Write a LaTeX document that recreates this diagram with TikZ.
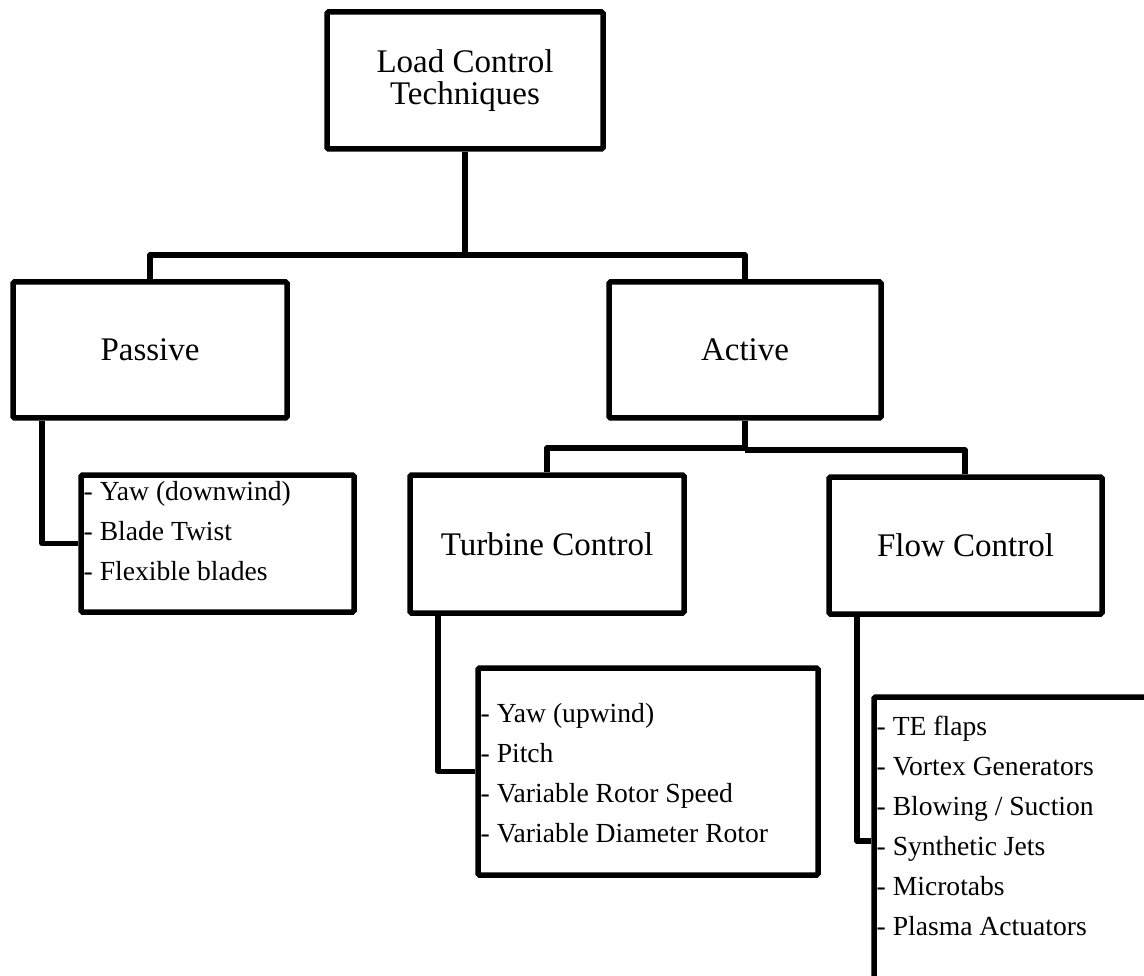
\documentclass[tikz,border=0pt]{standalone}
\usepackage{fontspec}
\setmainfont{Liberation Serif}
\begin{document}
\begin{tikzpicture}[x=1pt,y=-1pt,
  box/.style={draw=black, line width=5.5pt, rounded corners=1.5pt, inner sep=0pt, align=center,
    font=\fontsize{33}{31.5}\selectfont},
  listbox/.style={draw=black, line width=5.5pt, rounded corners=1.5pt, inner sep=0pt},
  item/.style={anchor=base west, inner sep=0pt, font=\fontsize{27.6}{40}\selectfont},
  conn/.style={draw=black, line width=5.5pt, line join=round}]
\useasboundingbox (0,0) rectangle (1144,976);
\clip (0,0) rectangle (1144,976);
% boxes
\node[box, minimum width=276pt, minimum height=137pt] (root) at (465,80.5) {Load Control\\Techniques};
\node[box, minimum width=274pt, minimum height=136pt] (passive) at (150,350) {Passive};
\node[box, minimum width=272pt, minimum height=136pt] (active) at (745,350) {Active};
\node[box, minimum width=274pt, minimum height=138pt] (turbine) at (547,544) {Turbine Control};
\node[box, minimum width=273pt, minimum height=137pt] (flow) at (965.5,545.5) {Flow Control};
\node[listbox, minimum width=273pt, minimum height=137pt] (plist) at (217.5,543.5) {};
\node[listbox, minimum width=340pt, minimum height=207pt] (tlist) at (648,771.5) {};
\node[listbox, minimum width=286pt, minimum height=288pt] (flist) at (1017,841) {};
% connectors
\coordinate (busA) at (0,255);
\coordinate (busB) at (0,448);
\coordinate (busC) at (0,450);
\draw[conn] (root.south) -- (root.south |- busA);
\draw[conn] (passive.north) |- (busA -| active.north) -- (active.north);
\draw[conn] (active.south) -- (active.south |- busB);
\draw[conn] (active.south |- busB) -| (turbine.north);
\draw[conn] (active.south |- busC) -| ([xshift=-0.5pt]flow.north);
\draw[conn] ([xshift=-108pt]passive.south) |- (plist.west);
\draw[conn] ([xshift=-109pt]turbine.south) |- (tlist.west);
\draw[conn] ([xshift=-108.5pt]flow.south) |- (flist.west);
% list texts
\foreach \t [count=\i] in {Yaw (downwind),Blade Twist,Flexible blades}
  \node[item] (p\i) at (83.5,{500+40*(\i-1)}) {- \t};
\foreach \t [count=\i] in {Yaw (upwind),Pitch,Variable Rotor Speed,Variable Diameter Rotor}
  \node[item] (t\i) at (480.5,{722+40*(\i-1)}) {- \t};
\foreach \t [count=\i] in {TE flaps,Vortex Generators,Blowing / Suction,Synthetic Jets,Microtabs,Plasma Actuators}
  \node[item] (f\i) at (876.5,{735+40*(\i-1)}) {- \t};
\end{tikzpicture}
\end{document}
